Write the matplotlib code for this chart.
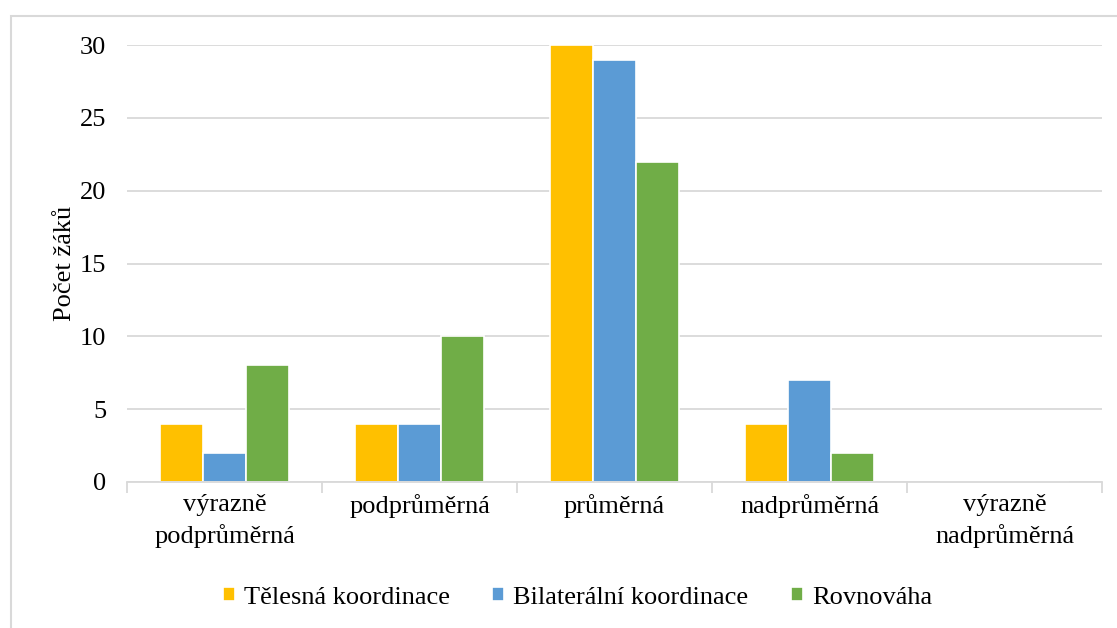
import numpy as np
import matplotlib.pyplot as plt
from matplotlib.patches import Rectangle

categories = ['výrazně\npodprůměrná', 'podprůměrná', 'průměrná',
              'nadprůměrná', 'výrazně\nnadprůměrná']
series_names = ['Tělesná koordinace', 'Bilaterální koordinace', 'Rovnováha']
telesna = [4, 4, 30, 4, 0]
bilateralni = [2, 4, 29, 7, 0]
rovnovaha = [8, 10, 22, 2, 0]
colors = ['#FFC000', '#5B9BD5', '#70AD47']

plt.rcParams['font.family'] = ['Liberation Serif', 'DejaVu Serif']
FS = 19

fig = plt.figure(figsize=(11.17, 6.28), dpi=100)
ax = fig.add_axes([0.1137, 0.2325, 0.8729, 0.6958])

# outer chart frame (runs off the right and bottom edges)
fig.patches.append(Rectangle((11 / 1117, -0.1), 1.2, 1 - 16 / 628 + 0.1,
                             transform=fig.transFigure, fill=False,
                             edgecolor='#D9D9D9', linewidth=1.5))

x = np.arange(len(categories))
w = 0.22
for i, (vals, name) in enumerate(zip([telesna, bilateralni, rovnovaha], series_names)):
    ax.bar(x + (i - 1) * w, vals, width=w, color=colors[i],
           edgecolor='white', linewidth=1.2, label=name, zorder=2)

ax.set_xlim(-0.5, len(categories) - 0.5)
ax.set_ylim(0, 30)
ax.set_yticks(range(0, 31, 5))
ax.yaxis.grid(True, color='#D9D9D9', linewidth=1.3)
ax.set_axisbelow(True)
for s in ['top', 'right', 'left']:
    ax.spines[s].set_visible(False)
ax.spines['bottom'].set_color('#D9D9D9')
ax.spines['bottom'].set_linewidth(1.3)
ax.spines['bottom'].set_zorder(3)
ax.tick_params(axis='y', length=0, pad=15, labelsize=FS)

ax.set_xticks(x)
ax.set_xticklabels(categories, fontsize=FS, linespacing=1.4)
ax.set_xticks(np.arange(-0.5, len(categories)), minor=True)
ax.tick_params(axis='x', which='major', length=0, pad=9)
ax.tick_params(axis='x', which='minor', length=8, color='#D9D9D9', width=1.3)

ax.set_ylabel('Počet žáků', fontsize=FS, labelpad=3)

ax.legend(loc='center', bbox_to_anchor=(0.462, -0.265), ncol=3, frameon=False,
          fontsize=FS, handlelength=0.45, handleheight=0.45, handletextpad=0.35,
          columnspacing=1.6)

fig.savefig('out.png', dpi=100)
